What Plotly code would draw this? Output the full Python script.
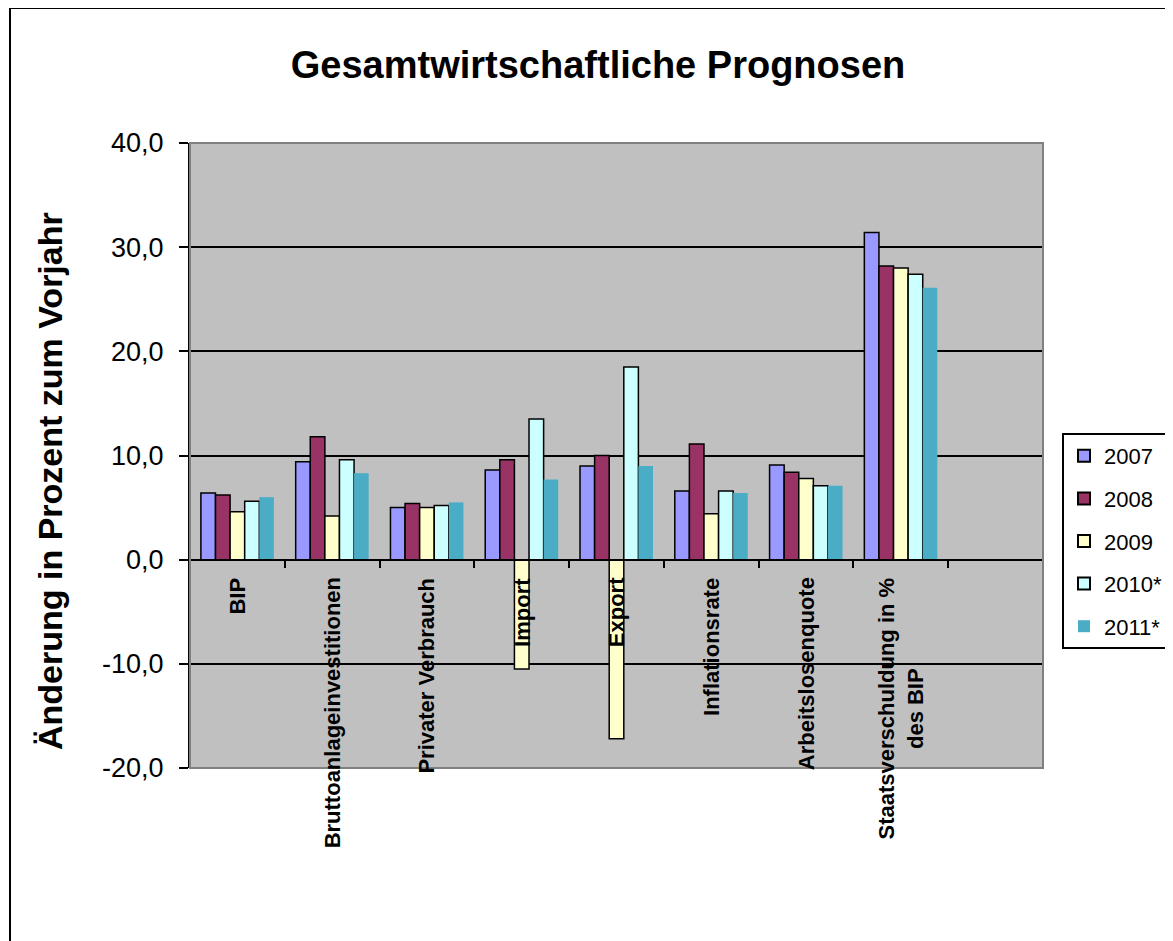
import plotly.graph_objects as go

# ---------------- data ----------------
categories = ["BIP", "Bruttoanlageinvestitionen", "Privater Verbrauch", "Import", "Export",
              "Inflationsrate", "Arbeitslosenquote", "Staatsverschuldung in %<br>des BIP", " "]
series_names = ["2007", "2008", "2009", "2010*", "2011*"]
v2007 = [6.4, 9.4, 5.0, 8.6, 9.0, 6.6, 9.1, 31.4, None]
v2008 = [6.2, 11.8, 5.4, 9.6, 10.0, 11.1, 8.4, 28.2, None]
v2009 = [4.6, 4.2, 5.0, -10.5, -17.2, 4.4, 7.8, 28.0, None]
v2010 = [5.6, 9.6, 5.2, 13.5, 18.5, 6.6, 7.1, 27.4, None]
v2011 = [6.0, 8.3, 5.5, 7.7, 9.0, 6.4, 7.1, 26.1, None]
y_tickvals = [-20, -10, 0, 10, 20, 30, 40]
y_ticktext = ["-20,0", "-10,0", "0,0", "10,0", "20,0", "30,0", "40,0"]
y_range = [-20, 40]

# ---------------- style ----------------
colors = ["#9999FF", "#993366", "#FFFFCC", "#CCFFFF", "#4BACC6"]
outline = [1.5, 1.5, 1.5, 1.5, 0]
FONT = "Liberation Sans, Arial, sans-serif"

OFF = 8  # page body margin
W, H = 1173 - OFF, 941 - OFF
ML, MT = 190 - OFF, 143 - OFF
PW, PH = 853, 625
MR, MB = W - ML - PW, H - MT - PH

fig = go.Figure()
for name, vals, col, lw in zip(series_names, [v2007, v2008, v2009, v2010, v2011], colors, outline):
    fig.add_trace(go.Bar(
        x=categories, y=vals, name=name, legendgroup=name,
        marker=dict(color=col, line=dict(color="black", width=lw)),
    ))

# category labels just below the zero line
for cat in categories:
    if cat.strip():
        fig.add_annotation(
            x=cat, y=0, xref="x", yref="y", text=cat, textangle=-90,
            yanchor="top", xanchor="center", align="center", yshift=-16,
            showarrow=False, font=dict(family=FONT, size=22, color="black", weight="bold"),
        )

# y axis title
fig.add_annotation(
    x=(50 - OFF - ML) / PW, y=(MT + PH - (481 - OFF)) / PH, xref="paper", yref="paper",
    text="Änderung in Prozent zum Vorjahr", textangle=-90, showarrow=False,
    xanchor="center", yanchor="middle",
    font=dict(family=FONT, size=34, color="black", weight="bold"),
)

# plot-area border and outer chart border
fig.add_shape(type="rect", xref="paper", yref="paper", x0=0, x1=1, y0=0, y1=1,
              line=dict(color="#808080", width=2), layer="above")
fig.add_shape(type="rect", xref="paper", yref="paper",
              x0=(10 - OFF - ML) / PW, x1=(W + 20 - ML) / PW,
              y0=(MT + PH - (H + 20)) / PH, y1=(MT + PH - (7 - OFF + 1)) / PH,
              line=dict(color="black", width=2))

zero_pos = (0 - y_range[0]) / (y_range[1] - y_range[0])

fig.update_layout(
    width=W, height=H,
    margin=dict(l=ML, r=MR, t=MT, b=MB, autoexpand=False),
    paper_bgcolor="white", plot_bgcolor="#C0C0C0",
    barmode="group", bargap=0.23, bargroupgap=0,
    font=dict(family=FONT, color="black"),
    title=dict(text="Gesamtwirtschaftliche Prognosen", x=(598 - OFF) / W, xanchor="center",
               y=1 - (65 - OFF) / H, yanchor="middle",
               font=dict(family=FONT, size=38, color="black", weight="bold")),
    xaxis=dict(
        anchor="free", position=zero_pos, type="category",
        showticklabels=False, ticks="outside", tickson="boundaries",
        ticklen=7, tickwidth=2, tickcolor="black",
        showline=True, linecolor="black", linewidth=2,
        showgrid=False, zeroline=False,
    ),
    yaxis=dict(
        range=y_range, tickvals=y_tickvals, ticktext=y_ticktext,
        tickfont=dict(family=FONT, size=27, color="black"),
        ticks="outside", ticklen=9, tickwidth=2, tickcolor="black",
        ticklabelstandoff=10,
        showline=True, linecolor="black", linewidth=2,
        showgrid=True, gridcolor="black", gridwidth=2,
        zeroline=False,
    ),
    legend=dict(
        x=(1062 - OFF - ML) / PW, y=(MT + PH - (433 - OFF)) / PH, xanchor="left", yanchor="top",
        bgcolor="white", bordercolor="black", borderwidth=2,
        font=dict(family=FONT, size=22, color="black"),
        tracegroupgap=11, itemsizing="constant", itemwidth=30,
    ),
    showlegend=True,
)

fig.write_html("out.html")
